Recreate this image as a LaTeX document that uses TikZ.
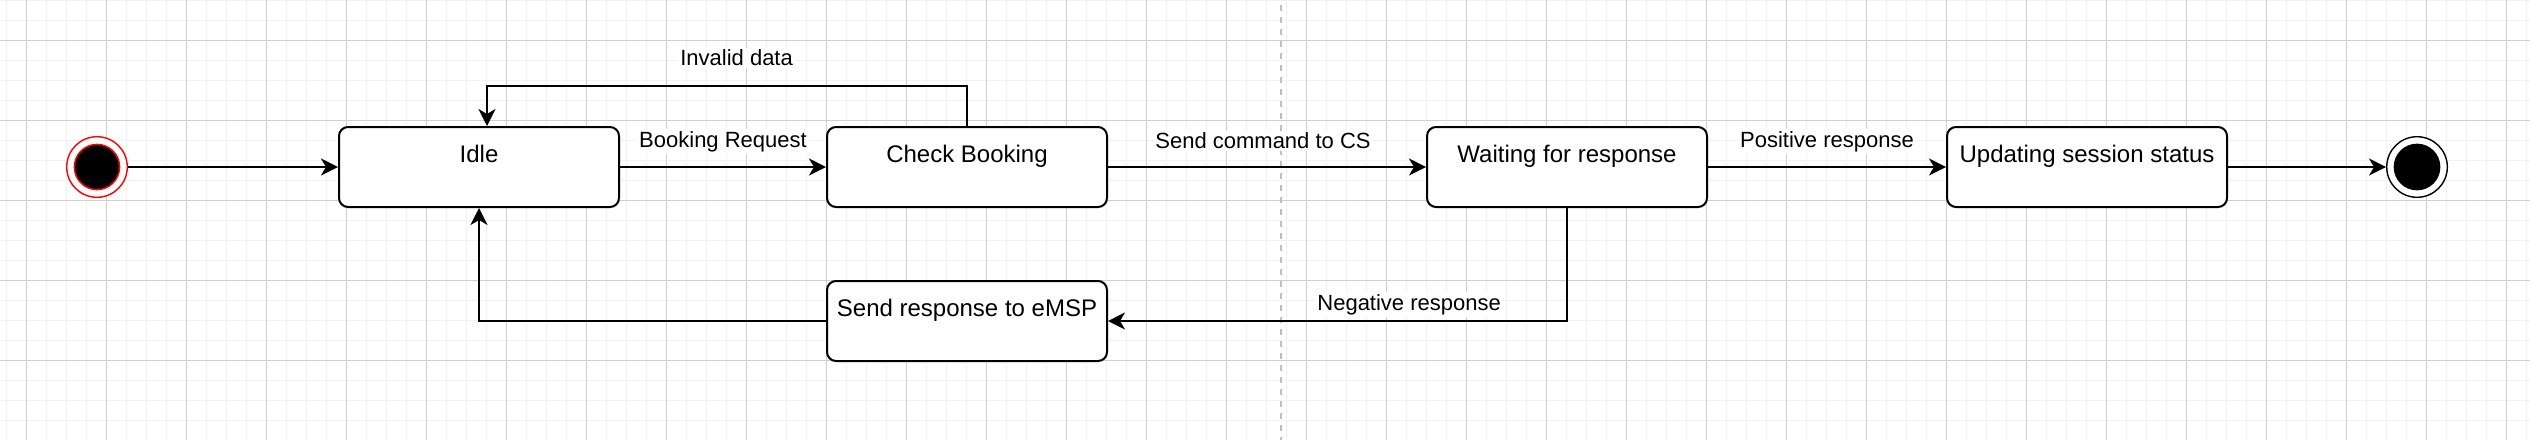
\documentclass[tikz,border=0pt]{standalone}
\usepackage{fontspec}
\setmainfont{Liberation Sans}
\usetikzlibrary{arrows.meta}
\begin{document}
\begin{tikzpicture}[x=0.5pt,y=-0.5pt,
  statebox/.style={draw,line width=1pt,rounded corners=4.5pt,fill=white,
    minimum width=140pt,inner xsep=0pt,inner ysep=0pt,
    text height=17.5pt,text depth=22.5pt,font=\fontsize{12pt}{14pt}\selectfont},
  ring/.style={circle,draw,line width=0.7pt,fill=white,minimum size=30.3pt,inner sep=0pt},
  dot/.style={circle,fill=black,line width=0.75pt,minimum size=22.6pt,inner sep=0pt},
  edgelbl/.style={fill=white,inner sep=1pt,anchor=base,font=\fontsize{11pt}{13pt}\selectfont},
  trans/.style={line width=1pt,-{Stealth[length=8.5pt,width=8.5pt,inset=2.5pt]}},
  minorln/.style={line width=0.75pt,black!5},
  majorln/.style={line width=0.5pt,black!19}]
% drawio state chart, 1 unit = 1 px of the 2530x440 sheet
\useasboundingbox[fill=white] (0,0) rectangle (2530,440);
\foreach \gx in {6.7,26.7,...,2530} \draw[minorln] (\gx,0) -- (\gx,440);
\foreach \gy in {0.5,20.5,...,440} \draw[minorln] (0,\gy) -- (2530,\gy);
\foreach \gx in {26.7,106.7,...,2530} \draw[majorln] (\gx,0) -- (\gx,440);
\foreach \gy in {40.5,120.5,...,440} \draw[majorln] (0,\gy) -- (2530,\gy);
\draw[line width=1pt,black!25,dash pattern=on 3pt off 3pt,dash phase=-2.5pt]
 (1281,0) -- (1281,440);
\node[ring,draw=red] (init) at (97,167) {};
\node[dot,draw=red] (initdot) at (init) {};
\node[statebox] (idle) at (479,167) {Idle};
\node[statebox] (check) at (967,167) {Check Booking};
\node[statebox] (wait) at (1567,167) {Waiting for response};
\node[statebox] (update) at (2087,167) {Updating session status};
\node[statebox] (send) at (967,321) {Send response to eMSP};
\node[ring] (final) at (2417,167) {};
\node[dot,draw=black] (finaldot) at (final) {};
\draw[trans] (init) -- (idle);
\draw[trans] (idle) -- node[edgelbl,yshift=10pt]{Booking Request} (check);
\draw[trans] (check) -- node[edgelbl,xshift=-2pt,yshift=9.25pt]{Send command to CS} (wait);
\draw[trans] (wait) -- node[edgelbl,yshift=10pt]{Positive response} (update);
\draw[trans] (update) -- (final);
\draw[trans] (check.north) -- ++(0,-40)
 -| node[edgelbl,pos=0.24,yshift=10.25pt]{Invalid data} ([xshift=4pt]idle.north);
\draw[trans] (wait.south)
 |- node[edgelbl,pos=0.672,yshift=5.35pt]{Negative response} (send.east);
\draw[trans] (send.west) -| (idle.south);
\end{tikzpicture}
\end{document}
